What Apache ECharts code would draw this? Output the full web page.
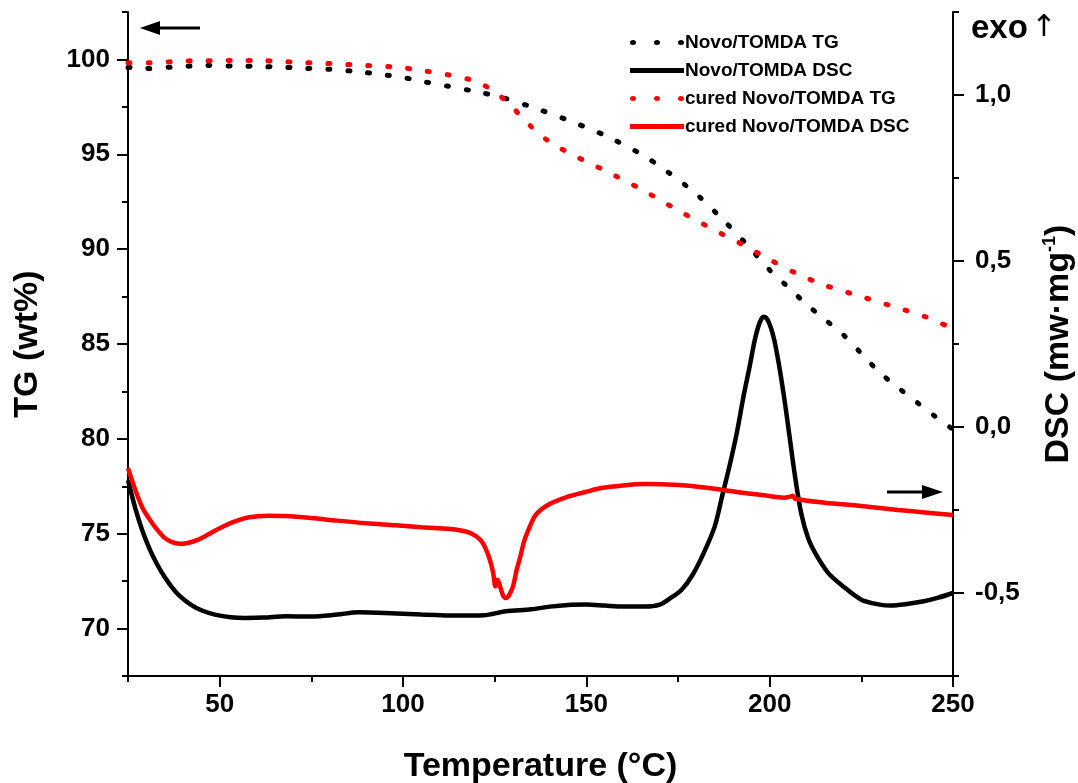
<!DOCTYPE html>
<html>
<head>
<meta charset="utf-8">
<title>TG / DSC</title>
<script src="https://cdn.jsdelivr.net/npm/echarts@6/dist/echarts.min.js"></script>
<style>
  html, body { margin: 0; padding: 0; background: #fff; }
  #chart { width: 1078px; height: 783px; }
</style>
</head>
<body>
<div id="chart"></div>
<script>
// Novo/TOMDA thermogravimetry (wt%, left axis)
const tgNovoT = [25, 30, 37, 42, 47, 54, 60, 66, 71, 80, 88, 95, 100, 105, 112, 120, 127, 135, 145, 155, 165, 172, 180, 187, 194, 200, 205, 210, 215, 220, 225, 230, 235, 240, 245, 250];
const tgNovoV = [99.58, 99.52, 99.6, 99.65, 99.68, 99.65, 99.63, 99.6, 99.55, 99.48, 99.35, 99.18, 99.05, 98.85, 98.6, 98.3, 98.0, 97.5, 96.8, 96.0, 95.0, 94.1, 92.9, 91.6, 90.2, 88.9, 88.0, 87.1, 86.3, 85.5, 84.5, 83.5, 82.7, 81.95, 81.2, 80.5];

// cured Novo/TOMDA thermogravimetry (wt%, left axis)
const tgCuredT = [25, 31, 37, 43, 48, 54, 60, 66, 71, 80, 90, 99, 105, 112, 118, 122, 126, 130, 135, 140, 147, 155, 165, 175, 185, 193, 200, 207, 215, 225, 235, 243, 250];
const tgCuredV = [99.83, 99.83, 99.88, 99.93, 99.93, 99.95, 99.95, 99.9, 99.85, 99.78, 99.68, 99.58, 99.42, 99.2, 98.95, 98.65, 98.15, 97.45, 96.45, 95.65, 94.9, 94.15, 93.15, 92.05, 91.0, 90.2, 89.45, 88.75, 88.1, 87.5, 86.9, 86.4, 85.8];

// Novo/TOMDA DSC (mW/mg, right axis)
const dscNovoT = [25, 27, 29, 31, 33, 35, 37, 39, 42, 45, 49, 53, 57, 62, 68, 75, 82, 88, 95, 105, 115, 122, 128, 135, 140, 145, 150, 155, 160, 166, 170, 173, 176, 179, 182, 185, 187, 189, 191, 193, 194.5, 196, 197.3, 198.3, 199.3, 200.3, 201.3, 202.5, 203.8, 205.2, 206.8, 208.6, 210.5, 212.7, 216, 219.5, 225, 230, 233, 237, 242, 246, 250];
const dscNovoV = [-0.16, -0.245, -0.315, -0.37, -0.415, -0.452, -0.483, -0.508, -0.534, -0.552, -0.566, -0.573, -0.575, -0.574, -0.57, -0.571, -0.565, -0.558, -0.56, -0.565, -0.568, -0.567, -0.555, -0.549, -0.541, -0.536, -0.535, -0.538, -0.541, -0.541, -0.535, -0.515, -0.49, -0.445, -0.38, -0.3, -0.21, -0.12, -0.02, 0.1, 0.18, 0.265, 0.315, 0.332, 0.325, 0.3, 0.26, 0.19, 0.1, -0.01, -0.14, -0.26, -0.335, -0.385, -0.44, -0.475, -0.52, -0.535, -0.538, -0.534, -0.525, -0.514, -0.5];

// cured Novo/TOMDA DSC (mW/mg, right axis)
const dscCuredT = [25, 27, 29, 31, 33, 35, 37, 39, 41, 44, 47, 50, 54, 58, 63, 68, 75, 82, 90, 98, 105, 110, 115, 118.5, 121.5, 123.4, 124.6, 125.2, 125.8, 126.6, 127.4, 128.2, 129, 130, 131, 132, 133, 134.2, 136.2, 139.5, 145, 150, 154, 160, 166, 172, 178, 185, 192, 198, 204, 205.5, 206.3, 207, 215, 225, 235, 243, 250];
const dscCuredV = [-0.124, -0.19, -0.245, -0.28, -0.31, -0.334, -0.347, -0.352, -0.35, -0.34, -0.323, -0.305, -0.285, -0.272, -0.267, -0.268, -0.274, -0.282, -0.29, -0.296, -0.302, -0.305, -0.31, -0.32, -0.345, -0.39, -0.44, -0.48, -0.46, -0.485, -0.51, -0.515, -0.505, -0.48, -0.43, -0.39, -0.345, -0.31, -0.265, -0.235, -0.21, -0.195, -0.184, -0.176, -0.172, -0.173, -0.177, -0.186, -0.197, -0.205, -0.213, -0.21, -0.207, -0.216, -0.228, -0.238, -0.25, -0.258, -0.265];

// axis ticks
const xMajorTicks = [50, 100, 150, 200, 250];
const tgMajorTicks = [70, 75, 80, 85, 90, 95, 100];
const dscMajorTicks = [-0.5, 0, 0.5, 1.0];

const seriesNames = ['Novo/TOMDA TG', 'Novo/TOMDA DSC', 'cured Novo/TOMDA TG', 'cured Novo/TOMDA DSC'];

const zip = (xs, ys) => xs.map((x, i) => [x, ys[i]]);

const FONT = '"Liberation Sans", Arial, sans-serif';
const INK = '#000';

// legend keys: a row of three dots, or a solid bar
const DOTS_ICON = 'path://M0,2.5a3,2.5 0 1,0 6,0a3,2.5 0 1,0 -6,0zM24,2.5a3,2.5 0 1,0 6,0a3,2.5 0 1,0 -6,0zM48,2.5a3,2.5 0 1,0 6,0a3,2.5 0 1,0 -6,0z';
const BAR_ICON = 'path://M0,0H54V5H0z';

function minorAxisStyle() {
  return {
    axisLine: { show: true, onZero: false, lineStyle: { color: INK, width: 2 } },
    axisTick: { show: true, inside: false, length: 6, lineStyle: { color: INK, width: 2 } },
    axisLabel: { show: false },
    splitLine: { show: false }
  };
}

function majorAxisStyle(ticks, fmt, margin) {
  return {
    axisLine: { show: false, onZero: false },
    axisTick: { show: true, inside: false, length: 11, customValues: ticks, lineStyle: { color: INK, width: 2 } },
    axisLabel: {
      show: true, customValues: ticks, formatter: fmt, margin: margin,
      color: INK, fontFamily: FONT, fontWeight: 'bold', fontSize: 26
    },
    splitLine: { show: false }
  };
}

const chart = echarts.init(document.getElementById('chart'), null, { renderer: 'canvas' });

const dotted = { type: [2, 18], cap: 'round', width: 5 };

chart.setOption({
  backgroundColor: '#fff',
  animation: false,
  grid: { left: 128, right: 125, top: 12, bottom: 107, containLabel: false, outerBoundsMode: 'none' },
  legend: {
    data: [
      { name: seriesNames[0], icon: DOTS_ICON },
      { name: seriesNames[1], icon: BAR_ICON },
      { name: seriesNames[2], icon: DOTS_ICON },
      { name: seriesNames[3], icon: BAR_ICON }
    ],
    orient: 'vertical',
    left: 625,
    top: 28,
    itemWidth: 54,
    itemHeight: 5,
    itemGap: 9,
    textStyle: { color: INK, fontFamily: FONT, fontWeight: 'bold', fontSize: 19, padding: [0, 0, 0, -4] }
  },
  xAxis: [
    Object.assign({
      type: 'value', min: 25, max: 250, interval: 25, position: 'bottom',
      name: 'Temperature (°C)', nameLocation: 'middle', nameGap: 74,
      nameTextStyle: { color: INK, fontFamily: FONT, fontWeight: 'bold', fontSize: 34 }
    }, minorAxisStyle()),
    Object.assign({
      type: 'value', min: 25, max: 250, interval: 25, position: 'bottom'
    }, majorAxisStyle(xMajorTicks, v => String(v), 16))
  ],
  yAxis: [
    Object.assign({
      type: 'value', min: 67.5, max: 102.5, interval: 2.5, position: 'left',
      name: 'TG (wt%)', nameLocation: 'middle', nameGap: 83, nameRotate: 90,
      nameTextStyle: { color: INK, fontFamily: FONT, fontWeight: 'bold', fontSize: 34 }
    }, minorAxisStyle()),
    Object.assign({
      type: 'value', min: 67.5, max: 102.5, interval: 2.5, position: 'left'
    }, majorAxisStyle(tgMajorTicks, v => String(v), 18)),
    Object.assign({
      type: 'value', min: -0.75, max: 1.25, interval: 0.25, position: 'right',
      name: '{t|DSC (mw·mg}{s|-1}{t|)}', nameLocation: 'middle', nameGap: 88, nameRotate: 90,
      nameTextStyle: {
        color: INK, fontFamily: FONT, fontWeight: 'bold', fontSize: 34,
        rich: {
          t: { color: INK, fontFamily: FONT, fontWeight: 'bold', fontSize: 34, lineHeight: 36 },
          s: { color: INK, fontFamily: FONT, fontWeight: 'bold', fontSize: 18, lineHeight: 36, verticalAlign: 'top', padding: [0, 0, 16, 0] }
        }
      }
    }, minorAxisStyle()),
    Object.assign({
      type: 'value', min: -0.75, max: 1.25, interval: 0.25, position: 'right'
    }, majorAxisStyle(dscMajorTicks, v => v.toFixed(1).replace('.', ','), 22))
  ],
  series: [
    {
      name: seriesNames[0], type: 'line', xAxisIndex: 0, yAxisIndex: 0,
      data: zip(tgNovoT, tgNovoV), smooth: 0.3, showSymbol: false, symbol: 'none',
      lineStyle: Object.assign({ color: '#000' }, dotted), itemStyle: { color: '#000' }, z: 3
    },
    {
      name: seriesNames[1], type: 'line', xAxisIndex: 0, yAxisIndex: 2,
      data: zip(dscNovoT, dscNovoV), smooth: 0.3, showSymbol: false, symbol: 'none',
      lineStyle: { color: '#000', width: 4.5 }, itemStyle: { color: '#000' }, z: 2
    },
    {
      name: seriesNames[2], type: 'line', xAxisIndex: 0, yAxisIndex: 0,
      data: zip(tgCuredT, tgCuredV), smooth: 0.3, showSymbol: false, symbol: 'none',
      lineStyle: Object.assign({ color: '#ff0000' }, dotted), itemStyle: { color: '#ff0000' }, z: 3
    },
    {
      name: seriesNames[3], type: 'line', xAxisIndex: 0, yAxisIndex: 2,
      data: zip(dscCuredT, dscCuredV), smooth: 0.3, showSymbol: false, symbol: 'none',
      lineStyle: { color: '#ff0000', width: 4.5 }, itemStyle: { color: '#ff0000' }, z: 2
    }
  ],
  graphic: [
    // arrow pointing to the TG axis
    { type: 'line', shape: { x1: 152, y1: 28, x2: 200, y2: 28 }, style: { stroke: INK, lineWidth: 3 } },
    { type: 'polygon', shape: { points: [[140, 28], [160, 21], [160, 35]] }, style: { fill: INK } },
    // arrow pointing to the DSC axis
    { type: 'line', shape: { x1: 887, y1: 492, x2: 930, y2: 492 }, style: { stroke: INK, lineWidth: 3 } },
    { type: 'polygon', shape: { points: [[943, 492], [922, 485], [922, 499]] }, style: { fill: INK } },
    // exothermic direction
    {
      type: 'text', left: 971, top: 12,
      style: {
        text: '{e|exo} {a|↑}',
        rich: {
          e: { fontFamily: FONT, fontWeight: 'bold', fontSize: 33, fill: INK },
          a: { fontFamily: '"DejaVu Sans", sans-serif', fontWeight: 'normal', fontSize: 30, fill: INK }
        }
      }
    }
  ]
});
</script>
</body>
</html>
